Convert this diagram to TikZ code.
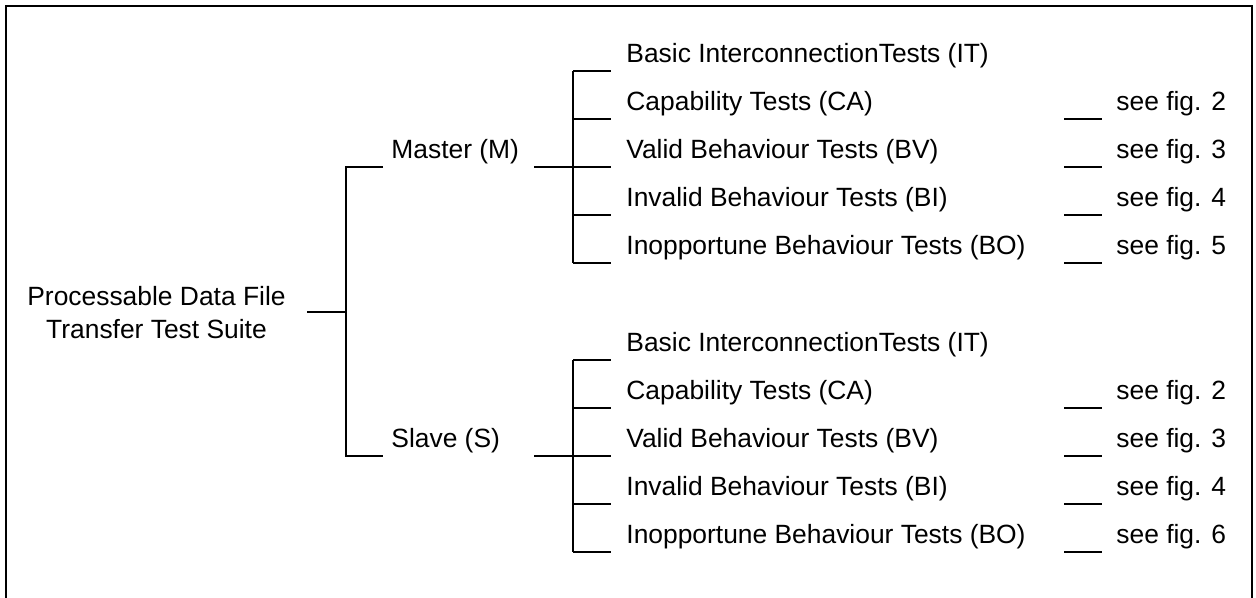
\documentclass[tikz,border=0pt]{standalone}
\usepackage{fontspec}
\setmainfont{Liberation Sans}
\usetikzlibrary{calc}
\begin{document}
\begin{tikzpicture}[x=0.5pt,y=-0.5pt,
  lbl/.style={anchor=base west,inner sep=0pt,font=\fontsize{13.2}{16.5}\selectfont},
  conn/.style={line width=0.65pt},
  frame/.style={line width=0.85pt}]
\useasboundingbox (0,0) rectangle (1256,598);
\draw[frame] (6,602) -- (6,6) -- (1252,6) -- (1252,602);
% root
\node[lbl,anchor=base,align=center] (root) at (156.5,338) {Processable Data File\\Transfer Test Suite};
\coordinate (r0) at (307,312);
\coordinate (rj) at (346,312);
\draw[conn] (r0) -- (rj);
% Master / Slave
\node[lbl] (M) at (391,158.5) {Master (M)};
\node[lbl] (S) at (391,447.5) {Slave (S)};
\coordinate (Min) at ($(M.base west)+(-8,8.5)$);
\coordinate (Sin) at ($(S.base west)+(-8,8.5)$);
\draw[conn] (Min) -| (rj) |- (Sin);
\coordinate (Mout) at (534,167);
\coordinate (Sout) at (534,456);
% children
\foreach \b/\y/\i/\t in {M/71/1/Basic InterconnectionTests (IT),M/119/2/Capability Tests (CA),M/167/3/Valid Behaviour Tests (BV),M/215/4/Invalid Behaviour Tests (BI),M/263/5/Inopportune Behaviour Tests (BO),S/360/1/Basic InterconnectionTests (IT),S/408/2/Capability Tests (CA),S/456/3/Valid Behaviour Tests (BV),S/504/4/Invalid Behaviour Tests (BI),S/552/5/Inopportune Behaviour Tests (BO)}{
  \node[lbl] (\b c\i) at (626,\y-8.5) {\t};
  \coordinate (\b j\i) at (573,\y);
  \coordinate (\b e\i) at ($(\b c\i.base west)+(-15,8.5)$);
  \draw[conn] (\b j\i) -- (\b e\i);
}
\draw[conn] (Mj1) -- (Mj5);
\draw[conn] (Sj1) -- (Sj5);
\draw[conn] (Mout) -- (Mj3);
\draw[conn] (Sout) -- (Sj3);
% figure references
\foreach \b/\y/\f in {M/119/2,M/167/3,M/215/4,M/263/5,S/408/2,S/456/3,S/504/4,S/552/6}{
  \node[lbl] (\b f\f) at (1116,\y-8.5) {see fig. \f};
  \draw[conn] ($(\b f\f.base west)+(-52,8.5)$) -- ($(\b f\f.base west)+(-14,8.5)$);
}
\end{tikzpicture}
\end{document}
